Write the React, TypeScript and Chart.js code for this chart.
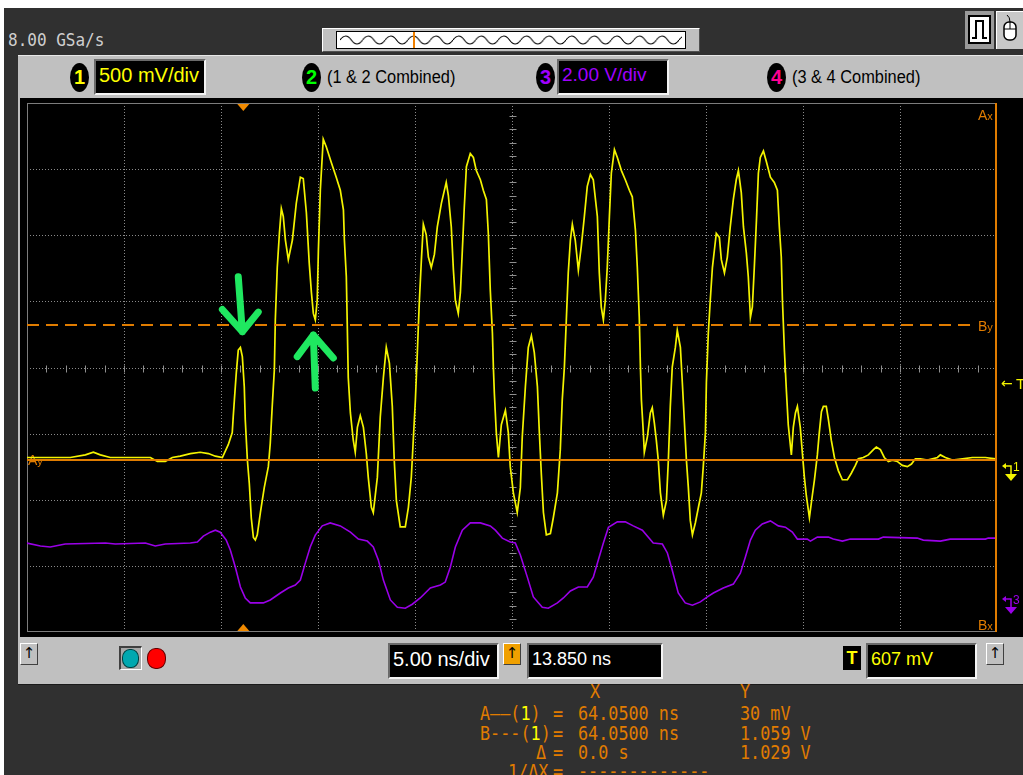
import React, { useEffect, useRef } from "react";
import { Chart, registerables } from "chart.js";

Chart.register(...registerables);

// ---- Axis ranges (5.00 ns/div, delay 13.850 ns; ch1 500 mV/div; ch3 2.00 V/div) ----
const TIME_MIN_NS = -11.15;
const TIME_MAX_NS = 38.85;
const CH1_MIN_V = -1.282;
const CH1_MAX_V = 2.756;
const CH3_MIN_V = -1.06;
const CH3_MAX_V = 14.94;

// ---- Channel 1 (yellow) ----
const ch1TimeNs = [
  -11.15, -10.46, -9.69, -8.92, -8.14, -7.73, -7.37, -6.86, -6.08, -5.31,
  -4.79, -4.43, -4.02, -3.66, -3.25, -2.73, -2.22, -1.8, -1.44, -1.08,
  -0.77, -0.57, -0.52, -0.46, -0.36, -0.26, -0.15, -0.05, 0.05, 0.1,
  0.21, 0.31, 0.41, 0.52, 0.62, 0.72, 0.88, 1.08, 1.29, 1.39,
  1.49, 1.6, 1.65, 1.75, 1.86, 1.96, 2.06, 2.17, 2.32, 2.53,
  2.73, 2.94, 3.09, 3.25, 3.4, 3.51, 3.61, 3.71, 3.81, 3.87,
  3.97, 4.12, 4.28, 4.54, 4.79, 5.0, 5.16, 5.21, 5.31, 5.36,
  5.41, 5.52, 5.67, 5.77, 5.88, 6.03, 6.19, 6.34, 6.44, 6.6,
  6.7, 6.91, 7.06, 7.22, 7.37, 7.53, 7.68, 7.78, 7.89, 8.09,
  8.35, 8.51, 8.66, 8.76, 8.87, 8.97, 9.07, 9.18, 9.28, 9.43,
  9.54, 9.69, 9.85, 10.0, 10.21, 10.46, 10.57, 10.72, 10.83, 10.93,
  11.08, 11.19, 11.29, 11.39, 11.5, 11.7, 11.86, 12.01, 12.22, 12.37,
  12.53, 12.63, 12.73, 12.84, 12.89, 12.94, 13.04, 13.15, 13.3, 13.51,
  13.66, 13.76, 13.92, 14.12, 14.28, 14.38, 14.54, 14.69, 14.85, 15.0,
  15.16, 15.26, 15.36, 15.47, 15.62, 15.83, 15.98, 16.19, 16.34, 16.44,
  16.55, 16.65, 16.75, 16.86, 16.96, 17.11, 17.27, 17.42, 17.58, 17.73,
  17.89, 18.04, 18.25, 18.35, 18.45, 18.56, 18.66, 18.76, 18.87, 18.97,
  19.13, 19.28, 19.49, 19.69, 19.9, 20.05, 20.21, 20.31, 20.41, 20.47,
  20.52, 20.62, 20.67, 20.83, 20.98, 21.08, 21.19, 21.29, 21.39, 21.5,
  21.65, 21.81, 21.91, 22.01, 22.11, 22.27, 22.37, 22.53, 22.63, 22.73,
  22.84, 22.94, 23.04, 23.15, 23.3, 23.46, 23.61, 23.71, 23.82, 23.87,
  23.97, 24.07, 24.18, 24.28, 24.38, 24.54, 24.64, 24.8, 24.95, 25.1,
  25.26, 25.41, 25.52, 25.67, 25.78, 25.93, 26.03, 26.14, 26.24, 26.34,
  26.45, 26.55, 26.65, 26.81, 26.96, 27.17, 27.37, 27.53, 27.63, 27.73,
  27.79, 27.89, 27.99, 28.09, 28.25, 28.35, 28.46, 28.56, 28.71, 28.82,
  28.92, 29.02, 29.18, 29.33, 29.44, 29.59, 29.69, 29.8, 29.9, 30.05,
  30.16, 30.31, 30.47, 30.67, 30.88, 31.14, 31.34, 31.55, 31.7, 31.96,
  32.22, 32.48, 32.63, 32.84, 33.04, 33.25, 33.46, 33.71, 33.97, 34.23,
  34.44, 34.64, 34.9, 35.26, 35.52, 35.78, 35.93, 36.19, 36.55, 37.07,
  37.58, 38.25, 38.77,
];
const ch1Volts = [
  0.05, 0.05, 0.05, 0.05, 0.07, 0.09, 0.07, 0.05, 0.05, 0.05,
  0.05, 0.02, 0.02, 0.05, 0.06, 0.08, 0.09, 0.08, 0.06, 0.05,
  0.15, 0.24, 0.36, 0.49, 0.7, 0.87, 0.89, 0.82, 0.59, 0.34,
  0.03, -0.15, -0.41, -0.56, -0.58, -0.54, -0.37, -0.18, -0.02, 0.16,
  0.44, 0.72, 1.1, 1.5, 1.76, 1.95, 1.89, 1.71, 1.56, 1.71,
  1.99, 2.19, 2.18, 1.92, 1.53, 1.31, 1.15, 1.1, 1.25, 1.63,
  2.09, 2.48, 2.42, 2.3, 2.19, 2.09, 1.94, 1.71, 1.43, 1.05,
  0.66, 0.39, 0.18, 0.09, 0.28, 0.37, 0.28, 0.08, -0.1, -0.33,
  -0.37, -0.1, 0.36, 0.66, 0.89, 0.77, 0.44, 0.03, -0.28, -0.48,
  -0.48, -0.33, -0.1, 0.18, 0.49, 0.85, 1.23, 1.56, 1.83, 1.75,
  1.58, 1.5, 1.6, 1.81, 1.99, 2.15, 2.05, 1.81, 1.48, 1.25,
  1.15, 1.31, 1.63, 1.96, 2.27, 2.37, 2.34, 2.24, 2.17, 2.09,
  2.02, 1.76, 1.33, 1.0, 0.74, 0.54, 0.24, 0.05, 0.3, 0.41,
  0.24, -0.02, -0.22, -0.37, -0.18, 0.21, 0.59, 0.89, 0.98, 0.85,
  0.59, 0.24, -0.07, -0.37, -0.54, -0.53, -0.41, -0.22, 0.11, 0.49,
  0.74, 1.1, 1.46, 1.71, 1.83, 1.71, 1.48, 1.66, 1.89, 2.12,
  2.21, 2.17, 1.89, 1.46, 1.2, 1.1, 1.25, 1.5, 1.89, 2.22,
  2.4, 2.34, 2.24, 2.17, 2.09, 2.04, 1.79, 1.5, 1.12, 0.74,
  0.49, 0.24, 0.09, 0.21, 0.39, 0.43, 0.31, 0.18, 0.03, -0.22,
  -0.39, -0.28, 0.03, 0.44, 0.74, 0.89, 1.02, 0.89, 0.62, 0.34,
  0.03, -0.18, -0.43, -0.54, -0.45, -0.33, -0.22, -0.02, 0.24, 0.62,
  1.0, 1.25, 1.5, 1.63, 1.76, 1.73, 1.56, 1.46, 1.58, 1.81,
  2.02, 2.17, 2.24, 2.07, 1.81, 1.61, 1.43, 1.12, 1.2, 1.5,
  1.86, 2.22, 2.34, 2.39, 2.31, 2.19, 2.15, 2.09, 1.81, 1.58,
  1.25, 0.87, 0.57, 0.3, 0.07, 0.28, 0.39, 0.44, 0.28, 0.08,
  -0.1, -0.24, -0.41, -0.24, -0.12, 0.07, 0.24, 0.4, 0.44, 0.44,
  0.34, 0.18, 0.05, -0.05, -0.12, -0.12, -0.07, -0.01, 0.04, 0.05,
  0.07, 0.11, 0.13, 0.11, 0.05, 0.02, 0.03, 0.02, -0.01, -0.02,
  0.0, 0.04, 0.04, 0.03, 0.04, 0.05, 0.07, 0.05, 0.03, 0.04,
  0.05, 0.05, 0.04,
];

// ---- Channel 3 (purple) ----
const ch3TimeNs = [
  -11.15, -10.46, -9.95, -9.18, -7.11, -6.6, -5.05, -4.54, -4.02, -2.73,
  -2.37, -2.06, -1.7, -1.44, -1.19, -0.88, -0.67, -0.41, -0.15, 0.1,
  0.36, 1.03, 1.39, 1.91, 2.32, 2.68, 2.94, 3.2, 3.45, 3.71,
  4.07, 4.48, 5.0, 5.52, 5.93, 6.39, 6.7, 6.96, 7.22, 7.58,
  7.94, 8.35, 8.71, 9.12, 9.64, 10.16, 10.41, 10.67, 10.93, 11.29,
  11.7, 12.22, 12.73, 12.99, 13.35, 13.76, 14.02, 14.28, 14.64, 14.95,
  15.41, 15.72, 16.19, 16.5, 16.86, 17.27, 17.73, 18.04, 18.3, 18.56,
  18.82, 19.28, 19.69, 20.1, 20.57, 21.13, 21.6, 21.86, 22.11, 22.42,
  22.78, 23.15, 23.56, 23.92, 24.23, 24.74, 25.26, 25.62, 25.88, 26.14,
  26.39, 26.75, 27.17, 27.58, 27.94, 28.3, 28.56, 29.07, 29.23, 29.59,
  30.16, 30.41, 30.88, 31.29, 32.74, 32.99, 34.74, 35.05, 35.93, 36.44,
  38.25, 38.4, 38.77,
];
const ch3Volts = [
  1.63, 1.54, 1.51, 1.6, 1.63, 1.6, 1.63, 1.54, 1.6, 1.63,
  1.66, 1.84, 1.96, 2.02, 1.96, 1.72, 1.42, 0.9, 0.3, -0.03,
  -0.18, -0.18, -0.09, 0.12, 0.27, 0.36, 0.51, 1.03, 1.51, 1.87,
  2.15, 2.24, 2.15, 1.96, 1.75, 1.69, 1.51, 1.12, 0.51, -0.09,
  -0.31, -0.34, -0.22, -0.03, 0.27, 0.36, 0.45, 0.9, 1.51, 2.02,
  2.24, 2.24, 2.15, 2.02, 1.78, 1.66, 1.63, 1.27, 0.6, 0.0,
  -0.31, -0.34, -0.18, -0.03, 0.18, 0.3, 0.3, 0.6, 1.12, 1.63,
  2.11, 2.27, 2.27, 2.15, 2.02, 1.63, 1.6, 1.33, 0.81, 0.12,
  -0.18, -0.25, -0.15, 0.0, 0.12, 0.27, 0.39, 0.72, 1.21, 1.72,
  2.02, 2.21, 2.3, 2.15, 2.11, 1.96, 1.75, 1.75, 1.69, 1.81,
  1.81, 1.75, 1.69, 1.75, 1.75, 1.81, 1.78, 1.72, 1.69, 1.75,
  1.75, 1.78, 1.78,
];

// ---- Cursors / trigger ----
const cursorAXns = 64.05;
const cursorAYv = 0.03;
const cursorBYv = 1.059;
const triggerTimeNs = 0;
const triggerLevelV = 0.607;

// ---- Hand-drawn green arrows (tail, tip, left arm, right arm) ----
const arrowDownTime = [-0.26, -0.05, -1.08, 0.77];
const arrowDownVolts = [1.43, 1.01, 1.18, 1.16];
const arrowUpTime = [3.71, 3.61, 2.78, 4.64];
const arrowUpVolts = [0.58, 0.985, 0.82, 0.81];

const ORANGE = "#e07c00";
const YELLOW = "#f4f400";
const PURPLE = "#9a00e8";
const GREEN = "#1fe860";

const scopePlugin = {
  id: "scopeDecor",
  beforeDatasetsDraw(chart: any) {
    const { ctx, chartArea: a } = chart;
    const w = a.right - a.left;
    const h = a.bottom - a.top;
    const line = (x1: number, y1: number, x2: number, y2: number) => {
      ctx.beginPath();
      ctx.moveTo(x1, y1);
      ctx.lineTo(x2, y2);
      ctx.stroke();
    };
    ctx.save();
    ctx.lineWidth = 1;
    ctx.strokeStyle = "#8a8a8a";
    ctx.setLineDash([1, 2]);
    for (let i = 1; i < 10; i++) {
      const x = Math.round(a.left + (w * i) / 10) + 0.5;
      line(x, a.top, x, a.bottom);
    }
    for (let j = 1; j < 8; j++) {
      const y = Math.round(a.top + (h * j) / 8) + 0.5;
      line(a.left, y, a.right, y);
    }
    ctx.setLineDash([]);
    ctx.strokeStyle = "#8f8f8f";
    const cx = Math.round(a.left + w / 2) + 0.5;
    const cy = Math.round(a.top + h / 2) + 0.5;
    for (let k = 1; k < 50; k++) {
      const x = Math.round(a.left + (w * k) / 50) + 0.5;
      line(x, cy - 3, x, cy + 4);
    }
    for (let k = 1; k < 40; k++) {
      const y = Math.round(a.top + (h * k) / 40) + 0.5;
      line(cx - 3, y, cx + 4, y);
    }
    ctx.strokeStyle = "#7c7c7c";
    ctx.strokeRect(a.left + 0.5, a.top + 0.5, w - 1, h - 1);

    // cursor labels
    const lbl = (big: string, small: string, x: number, y: number) => {
      ctx.fillStyle = ORANGE;
      ctx.textBaseline = "alphabetic";
      ctx.font = '14px "Liberation Sans", sans-serif';
      ctx.fillText(big, x, y);
      const bw = ctx.measureText(big).width;
      ctx.font = '11px "Liberation Sans", sans-serif';
      ctx.fillText(small, x + bw, y);
    };
    const y1 = chart.scales.y1;
    lbl("A", "x", a.right - 19, a.top + 17);
    lbl("B", "x", a.right - 19, a.bottom - 2);
    lbl("B", "y", a.right - 19, y1.getPixelForValue(cursorBYv) + 6);
    lbl("A", "y", a.left + 1, y1.getPixelForValue(cursorAYv) + 5);
    ctx.restore();
  },
  afterDatasetsDraw(chart: any) {
    const { ctx, chartArea: a } = chart;
    const xs = chart.scales.x;
    const y1 = chart.scales.y1;
    const y3 = chart.scales.y3;
    const line = (x1: number, yA: number, x2: number, yB: number) => {
      ctx.beginPath();
      ctx.moveTo(x1, yA);
      ctx.lineTo(x2, yB);
      ctx.stroke();
    };
    ctx.save();
    ctx.strokeStyle = ORANGE;
    ctx.lineWidth = 2;
    const ay = Math.round(y1.getPixelForValue(cursorAYv));
    line(a.left, ay, a.right, ay);
    const by = Math.round(y1.getPixelForValue(cursorBYv));
    ctx.setLineDash([12, 7]);
    line(a.left, by, a.right - 22, by);
    ctx.setLineDash([]);
    const axp = Math.min(xs.getPixelForValue(cursorAXns), a.right - 1);
    line(axp, a.top, axp, a.bottom);

    // trigger position triangles
    const tx = xs.getPixelForValue(triggerTimeNs);
    ctx.fillStyle = "#f08a00";
    ctx.beginPath();
    ctx.moveTo(tx - 6, a.top + 1);
    ctx.lineTo(tx + 6, a.top + 1);
    ctx.lineTo(tx, a.top + 8);
    ctx.closePath();
    ctx.fill();
    ctx.beginPath();
    ctx.moveTo(tx - 6, a.bottom - 1);
    ctx.lineTo(tx + 6, a.bottom - 1);
    ctx.lineTo(tx, a.bottom - 8);
    ctx.closePath();
    ctx.fill();

    // trigger level marker
    const ty = y1.getPixelForValue(triggerLevelV);
    ctx.fillStyle = YELLOW;
    ctx.font = '14px "DejaVu Sans", sans-serif';
    ctx.textBaseline = "middle";
    ctx.fillText("\u2190", a.right + 4, ty);
    ctx.font = '15px "Liberation Sans", sans-serif';
    ctx.fillText("T", a.right + 19, ty);

    // ground markers
    const gnd = (y: number, color: string, n: string) => {
      ctx.strokeStyle = color;
      ctx.fillStyle = color;
      ctx.lineWidth = 1.5;
      const bx = a.right + 14;
      ctx.beginPath();
      ctx.moveTo(bx, y + 10);
      ctx.lineTo(bx, y + 2);
      ctx.lineTo(a.right + 7, y + 2);
      ctx.stroke();
      ctx.beginPath();
      ctx.moveTo(a.right + 5, y + 2);
      ctx.lineTo(a.right + 9, y - 1);
      ctx.lineTo(a.right + 9, y + 5);
      ctx.closePath();
      ctx.fill();
      ctx.beginPath();
      ctx.moveTo(bx - 6, y + 10);
      ctx.lineTo(bx + 6, y + 10);
      ctx.lineTo(bx, y + 17);
      ctx.closePath();
      ctx.fill();
      ctx.font = '12px "Liberation Sans", sans-serif';
      ctx.textBaseline = "middle";
      ctx.fillText(n, bx + 2, y + 4);
    };
    gnd(y1.getPixelForValue(0), YELLOW, "1");
    gnd(y3.getPixelForValue(0), PURPLE, "3");

    // green annotation arrows
    const arrow = (ts: number[], vs: number[]) => {
      const p = ts.map((t, i) => [xs.getPixelForValue(t), y1.getPixelForValue(vs[i])]);
      ctx.strokeStyle = GREEN;
      ctx.lineWidth = 7;
      ctx.lineCap = "round";
      ctx.lineJoin = "round";
      ctx.beginPath();
      ctx.moveTo(p[0][0], p[0][1]);
      ctx.lineTo(p[1][0], p[1][1]);
      ctx.moveTo(p[2][0], p[2][1]);
      ctx.lineTo(p[1][0], p[1][1]);
      ctx.lineTo(p[3][0], p[3][1]);
      ctx.stroke();
    };
    arrow(arrowDownTime, arrowDownVolts);
    arrow(arrowUpTime, arrowUpVolts);
    ctx.restore();
  },
};

const abs = (left: number, top: number, extra: React.CSSProperties = {}): React.CSSProperties => ({
  position: "absolute",
  left,
  top,
  ...extra,
});

function Oval({ left, color, n }: { left: number; color: string; n: string }) {
  return (
    <div
      style={abs(left, 63, {
        width: 19,
        height: 29,
        borderRadius: "50%",
        background: "#000",
        color,
        fontWeight: 700,
        fontSize: 20,
        lineHeight: "29px",
        textAlign: "center",
      })}
    >
      {n}
    </div>
  );
}

function Sunken({
  left,
  top,
  width,
  color,
  text,
  size = 18,
}: {
  left: number;
  top: number;
  width: number;
  color: string;
  text: string;
  size?: number;
}) {
  return (
    <div
      style={abs(left, top, {
        width,
        height: 36,
        boxSizing: "border-box",
        background: "#000",
        borderTop: "2px solid #6a6a6a",
        borderLeft: "2px solid #6a6a6a",
        borderRight: "2px solid #f4f4f4",
        borderBottom: "2px solid #f4f4f4",
        color,
        fontSize: size,
        lineHeight: "28px",
        paddingLeft: 3,
        whiteSpace: "nowrap",
        overflow: "hidden",
      })}
    >
      {text}
    </div>
  );
}

function Btn({ left, bg }: { left: number; bg: string }) {
  return (
    <div
      style={abs(left, 643, {
        width: 18,
        height: 22,
        boxSizing: "border-box",
        background: bg,
        borderTop: "1px solid #fff",
        borderLeft: "1px solid #fff",
        borderRight: "1px solid #404040",
        borderBottom: "1px solid #404040",
        fontSize: 15,
        lineHeight: "19px",
        textAlign: "center",
        color: "#000",
        fontFamily: '"DejaVu Sans", sans-serif',
      })}
    >
      {"\u2191"}
    </div>
  );
}

const monoText = (left: number, top: number, text: React.ReactNode) => (
  <div
    style={abs(left, top, {
      color: ORANGE,
      fontFamily: '"DejaVu Sans Mono", monospace',
      fontSize: 16.8,
      lineHeight: "20px",
      whiteSpace: "pre",
      transform: "scaleY(1.12)",
      transformOrigin: "left center",
    })}
  >
    {text}
  </div>
);

export default function App() {
  const ref = useRef<HTMLCanvasElement>(null);

  useEffect(() => {
    if (!ref.current) return;
    const chart = new Chart(ref.current, {
      type: "line",
      data: {
        datasets: [
          {
            label: "Channel 1",
            data: ch1TimeNs.map((t, i) => ({ x: t, y: ch1Volts[i] })),
            yAxisID: "y1",
            borderColor: YELLOW,
            borderWidth: 1.7,
            pointRadius: 0,
            tension: 0,
            order: 1,
          },
          {
            label: "Channel 3",
            data: ch3TimeNs.map((t, i) => ({ x: t, y: ch3Volts[i] })),
            yAxisID: "y3",
            borderColor: PURPLE,
            borderWidth: 1.6,
            pointRadius: 0,
            tension: 0,
            order: 2,
          },
        ],
      },
      options: {
        responsive: false,
        animation: false,
        events: [],
        layout: { padding: { left: 7, top: 5, right: 26, bottom: 5 } },
        scales: {
          x: { type: "linear", min: TIME_MIN_NS, max: TIME_MAX_NS, display: false },
          y1: { type: "linear", min: CH1_MIN_V, max: CH1_MAX_V, display: false },
          y3: { type: "linear", min: CH3_MIN_V, max: CH3_MAX_V, display: false },
        },
        plugins: { legend: { display: false }, tooltip: { enabled: false } },
      },
      plugins: [scopePlugin],
    });
    return () => chart.destroy();
  }, []);

  return (
    <div
      style={{
        position: "fixed",
        left: 0,
        top: 0,
        width: 1023,
        height: 775,
        overflow: "hidden",
        background: "#ffffff",
        fontFamily: '"Liberation Sans", Arial, sans-serif',
      }}
    >
      <div style={abs(4, 8, { width: 1019, height: 767, background: "#303030" })} />

      {/* sample rate */}
      <div
        style={abs(8, 31, {
          color: "#cfcfcf",
          fontFamily: '"DejaVu Sans Mono", monospace',
          fontSize: 16,
          lineHeight: "18px",
          transform: "scaleY(1.15)",
          transformOrigin: "left center",
          whiteSpace: "pre",
        })}
      >
        8.00 GSa/s
      </div>

      {/* zoom overview bar */}
      <div
        style={abs(322, 28, {
          width: 378,
          height: 24,
          boxSizing: "border-box",
          background: "#c0c0c0",
          borderTop: "1px solid #fff",
          borderLeft: "1px solid #fff",
          borderRight: "1px solid #505050",
          borderBottom: "1px solid #505050",
        })}
      >
        <div
          style={abs(13, 2, {
            width: 350,
            height: 18,
            boxSizing: "border-box",
            background: "#fff",
            border: "1px solid #000",
            overflow: "hidden",
          })}
        >
          <svg width={348} height={16} style={{ position: "absolute", left: 0, top: 0 }}>
            <defs>
              <pattern id="sinePat" x={3} width={22.6} height={16} patternUnits="userSpaceOnUse">
                <path d="M0 8 Q5.65 0 11.3 8 T22.6 8" fill="none" stroke="#000" strokeWidth={1.2} />
              </pattern>
            </defs>
            <rect x={3} y={0} width={342} height={16} fill="url(#sinePat)" />
            <line x1={77} y1={0} x2={77} y2={16} stroke="#f08000" strokeWidth={2} />
          </svg>
        </div>
      </div>

      {/* top-right icons */}
      <div style={abs(965, 11, { width: 29, height: 38, background: "#9a9a9a" })} />
      <div
        style={abs(968, 15, {
          width: 23,
          height: 29,
          boxSizing: "border-box",
          background: "#fff",
          border: "2px solid #000",
        })}
      >
        <svg width={19} height={25} style={{ position: "absolute", left: 0, top: 0 }}>
          <path d="M2 21 H6 V4 H13 V21 H17" fill="none" stroke="#000" strokeWidth={2} />
        </svg>
      </div>
      <div
        style={abs(996, 11, {
          width: 27,
          height: 38,
          boxSizing: "border-box",
          background: "#c8c8c8",
          borderTop: "1px solid #fff",
          borderLeft: "1px solid #fff",
        })}
      >
        <svg width={27} height={36} style={{ position: "absolute", left: 0, top: 0 }}>
          <rect x={7} y={10} width={12} height={18} rx={5} fill="#fff" stroke="#000" strokeWidth={1.5} />
          <line x1={7} y1={17} x2={19} y2={17} stroke="#000" strokeWidth={1} />
          <line x1={13} y1={10} x2={13} y2={17} stroke="#000" strokeWidth={1} />
          <path d="M13 10 Q13 5 10 3" fill="none" stroke="#000" strokeWidth={1} />
        </svg>
      </div>

      {/* main gray panel */}
      <div
        style={abs(18, 55, {
          width: 1005,
          height: 630,
          background: "#c0c0c0",
          borderTop: "1px solid #e8e8e8",
          borderBottom: "1px solid #1a1a1a",
          boxSizing: "border-box",
        })}
      />

      {/* channel row */}
      <Oval left={70} color="#ffff00" n="1" />
      <Sunken left={94} top={59} width={112} color="#ffff00" text="500 mV/div" size={20} />
      <Oval left={302} color="#00ff00" n="2" />
      <div style={abs(327, 64, { fontSize: 18, lineHeight: "26px", color: "#000", whiteSpace: "nowrap", transform: "scaleX(0.91)", transformOrigin: "left center" })}>
        (1 &amp; 2 Combined)
      </div>
      <Oval left={536} color="#a000ff" n="3" />
      <Sunken left={557} top={59} width={112} color="#a000ff" text="2.00 V/div" size={19} />
      <Oval left={767} color="#ff0090" n="4" />
      <div style={abs(792, 64, { fontSize: 18, lineHeight: "26px", color: "#000", whiteSpace: "nowrap", transform: "scaleX(0.91)", transformOrigin: "left center" })}>
        (3 &amp; 4 Combined)
      </div>

      {/* plot area */}
      <div style={abs(20, 98, { width: 1003, height: 539, background: "#000" })} />
      <canvas ref={ref} width={1003} height={539} style={abs(20, 98, { width: 1003, height: 539 })} />

      {/* bottom control row */}
      <Btn left={20} bg="#c0c0c0" />
      <div
        style={abs(119, 646, {
          width: 23,
          height: 24,
          boxSizing: "border-box",
          borderTop: "2px solid #404040",
          borderLeft: "2px solid #404040",
          borderRight: "1px solid #fff",
          borderBottom: "1px solid #fff",
          background: "#a8a8a8",
        })}
      />
      <div style={abs(122, 649, { width: 17, height: 19, borderRadius: "45%", background: "#00a8b0", border: "1px solid #004040", boxSizing: "border-box" })} />
      <div style={abs(147, 648, { width: 19, height: 21, borderRadius: "45%", background: "#ff0000", border: "1px solid #600000", boxSizing: "border-box" })} />
      <Sunken left={388} top={643} width={111} color="#ffffff" text="5.00 ns/div" size={20} />
      <Btn left={503} bg="#f0a000" />
      <Sunken left={527} top={643} width={136} color="#ffffff" text="13.850 ns" />
      <div
        style={abs(843, 646, {
          width: 18,
          height: 24,
          background: "#000",
          color: "#ffff00",
          fontWeight: 700,
          fontSize: 18,
          lineHeight: "24px",
          textAlign: "center",
        })}
      >
        T
      </div>
      <Sunken left={866} top={643} width={111} color="#ffff00" text="607 mV" />
      <Btn left={986} bg="#c0c0c0" />

      {/* cursor readouts */}
      {monoText(590, 681, "X")}
      {monoText(740, 681, "Y")}
      {monoText(480, 703, <>A——(<span style={{ color: "#ffff00" }}>1</span>)</>)}
      {monoText(553, 703, "=")}
      {monoText(578, 703, "64.0500 ns")}
      {monoText(740, 703, "30 mV")}
      {monoText(480, 723, <>B---(<span style={{ color: "#ffff00" }}>1</span>)</>)}
      {monoText(553, 723, "=")}
      {monoText(578, 723, "64.0500 ns")}
      {monoText(740, 723, "1.059 V")}
      {monoText(536, 742, "Δ")}
      {monoText(553, 742, "=")}
      {monoText(578, 742, "0.0 s")}
      {monoText(740, 742, "1.029 V")}
      {monoText(508, 761, "1/ΔX")}
      {monoText(553, 761, "=")}
      {monoText(578, 761, "-------------")}
    </div>
  );
}
